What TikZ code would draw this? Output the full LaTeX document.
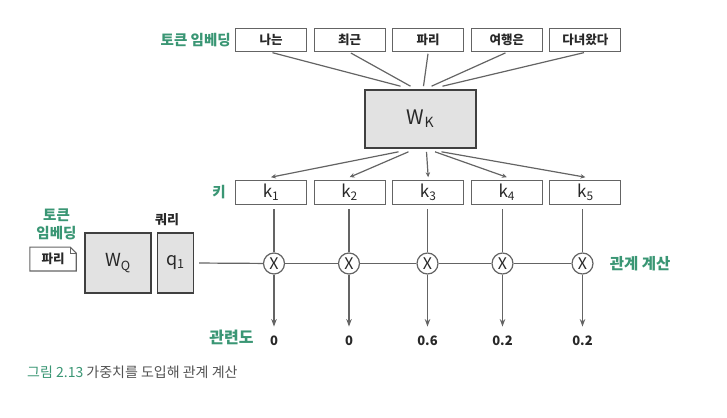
\documentclass[tikz,border=0pt]{standalone}
\usepackage{fontspec}
\setmainfont{Noto Sans CJK KR}
\usepackage{xcolor}
\usetikzlibrary{positioning}
\usetikzlibrary{calc}
\usetikzlibrary{arrows.meta}

\definecolor{labelgreen}{RGB}{58,150,116}
\definecolor{linegray}{RGB}{100,100,100}
\definecolor{boxgray}{RGB}{226,226,226}
\definecolor{textgray}{RGB}{40,40,40}

\tikzset{
	tokenbox/.style={draw=linegray, line width=1.1pt, minimum width=71pt, minimum height=23.5pt, inner sep=0pt, text=textgray, font=\fontsize{12.5}{12.5}\selectfont\bfseries},
	keybox/.style={tokenbox, font=\fontsize{17}{17}\selectfont},
	weightbox/.style={draw=black!75, fill=boxgray, line width=1.6pt, inner sep=0pt, text=textgray},
	mulnode/.style={circle, draw=linegray, line width=1.2pt, fill=white, minimum size=21pt, inner sep=0pt, text=textgray, font=\fontsize{16}{16}\selectfont},
	greenlabel/.style={text=labelgreen, inner sep=1pt, font=\fontsize{14.5}{18}\selectfont\bfseries},
	conn/.style={draw=linegray, line width=1.2pt},
	smallarrow/.style={conn, -{Stealth[length=5pt, width=4.5pt]}},
	bigarrow/.style={conn, -{Stealth[length=7.5pt, width=5.5pt]}},
}

\begin{document}
\begin{tikzpicture}[x=1pt, y=-1pt]
	\useasboundingbox (0,0) rectangle (727,417);

	% token embeddings on top
	\node[tokenbox] (t1) at (271,40) {나는};
	\node[tokenbox] (t2) [right=6.5pt of t1] {최근};
	\node[tokenbox] (t3) [right=6.5pt of t2] {파리};
	\node[tokenbox] (t4) [right=6.5pt of t3] {여행은};
	\node[tokenbox] (t5) [right=6.5pt of t4] {다녀왔다};
	\node[greenlabel] (tlabel) [left=3pt of t1] {토큰 임베딩};

	\node[weightbox, minimum width=111pt, minimum height=58pt] (wk) at (420.5,119) {\fontsize{20}{20}\selectfont W\textsubscript{K}};

	% keys
	\node[keybox] (k1) at (271,192.5) {k\textsubscript{1}};
	\node[keybox] (k2) [right=6.5pt of k1] {k\textsubscript{2}};
	\node[keybox] (k3) [right=6.5pt of k2] {k\textsubscript{3}};
	\node[keybox] (k4) [right=6.5pt of k3] {k\textsubscript{4}};
	\node[keybox] (k5) [right=6.5pt of k4] {k\textsubscript{5}};
	\node[greenlabel] (klabel) [left=8pt of k1] {키};

	\foreach \i/\dx in {1/-20,2/-10,3/3,4/11,5/22}
		\draw[conn, shorten <=1.5pt] (t\i.south) -- ($(wk.north)+(\dx,-3)$);
	\foreach \i/\dx in {1/-22,2/-12,3/6,4/14.5,5/21}
		\draw[smallarrow] ($(wk.south)+(\dx,3)$) -- ($(k\i.north)+(0,-3)$);

	% query side
	\node[weightbox, minimum width=65.5pt, minimum height=60pt] (wq) at (118,263) {\fontsize{18}{18}\selectfont W\textsubscript{Q}};
	\node[weightbox, minimum width=36pt, minimum height=60pt] (q1) [right=5pt of wq] {\fontsize{18}{18}\selectfont q\textsubscript{1}};
	\node[text=textgray, font=\fontsize{13}{13}\selectfont\bfseries] (qlabel) at (167,220) {쿼리};
	\node[greenlabel, align=center] (qtlabel) at (56.5,224) {토큰\\임베딩};
	\node[text=textgray, minimum width=46pt, minimum height=23.5pt, inner sep=0pt, font=\fontsize{12.5}{12.5}\selectfont\bfseries] (doc) at (53,259) {파리};
	\draw[draw=linegray, line width=1.1pt] (doc.south west) -- (doc.north west) -- ([xshift=-6pt]doc.north east) -- ([yshift=-6pt]doc.north east) -- (doc.south east) -- cycle;
	\draw[draw=linegray, line width=0.8pt] ([xshift=-6pt]doc.north east) -- ([xshift=-6pt, yshift=-6pt]doc.north east) -- ([yshift=-6pt]doc.north east);

	% products
	\foreach \i/\x/\v in {1/274/0,2/349/0,3/427.5/0.6,4/502.5/0.2,5/582.5/0.2} {
		\node[mulnode] (m\i) at (\x,263.5) {X};
		\node[text=textgray, font=\fontsize{13}{13}\selectfont\bfseries] (r\i) at (\x,341) {\v};
		\draw[conn, shorten <=4.5pt] (k\i.south -| m\i) -- (m\i);
		\draw[bigarrow, shorten >=6pt] (m\i) -- (r\i);
	}
	\draw[conn, shorten <=5pt] (q1.east) -- (m1);
	\foreach \i/\j in {1/2,2/3,3/4,4/5}
		\draw[conn] (m\i) -- (m\j);
	\node[greenlabel, font=\fontsize{15.5}{15.5}\selectfont\bfseries] (rlabel) [right=15pt of m5] {관계 계산};
	\node[greenlabel, font=\fontsize{16}{16}\selectfont\bfseries] (slabel) at (231.5,337) {관련도};

	% caption
	\node[anchor=west, inner sep=0pt, text=black!68, font=\fontsize{14}{14}\selectfont] (caption) at (27,372) {\textcolor{labelgreen}{그림 2.13}\ 가중치를 도입해 관계 계산};
\end{tikzpicture}
\end{document}
